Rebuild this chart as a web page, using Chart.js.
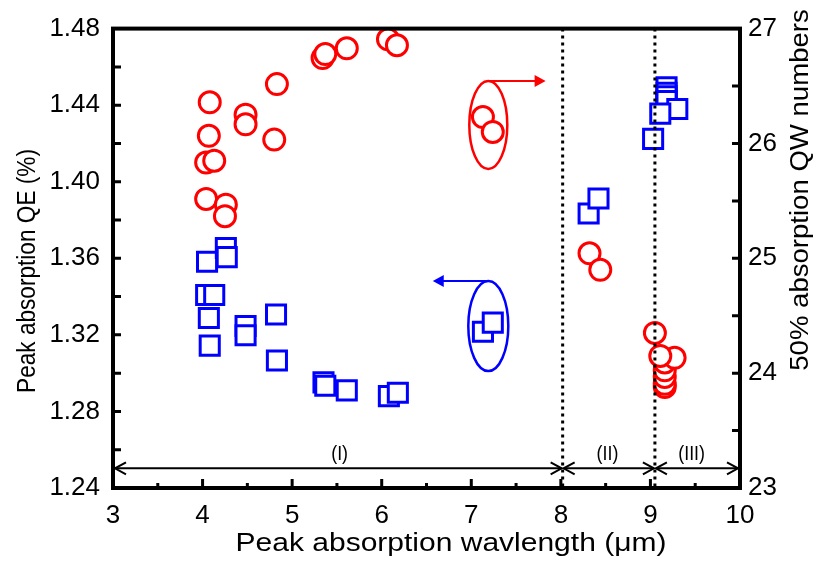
<!DOCTYPE html>
<html>
<head>
<meta charset="utf-8">
<script src="https://cdn.jsdelivr.net/npm/chart.js@4"></script>
<style>
body { margin: 0; background: #fff; }
</style>
</head>
<body>
<canvas id="chart" width="820" height="561"></canvas>
<script>
// peak absorption QE (%) vs wavelength (um) - left axis
const qeWavelength = [4.08, 4.07, 4.04, 4.13, 4.04, 4.26, 4.25, 4.48, 4.48, 4.83, 4.80, 5.34, 5.37, 5.61, 6.07, 6.17,
  7.13, 7.24, 8.32, 8.44, 9.16, 9.16, 9.16, 9.16, 9.16, 9.27, 9.11, 9.05];
const qeValues = [1.4415, 1.424, 1.410, 1.411, 1.391, 1.388, 1.382, 1.435, 1.430, 1.451, 1.422, 1.4646, 1.4667, 1.4697, 1.4744, 1.4713,
  1.4338, 1.426, 1.3626, 1.354, 1.2928, 1.2944, 1.298, 1.3015, 1.3056, 1.308, 1.309, 1.321];

// 50% absorption QW numbers vs wavelength (um) - right axis
const qwWavelength = [4.05, 4.26, 4.27, 4.04, 4.13, 4.07, 4.08, 4.48, 4.48, 4.82, 4.83, 5.35, 5.37, 5.61, 6.08, 6.18,
  7.13, 7.24, 8.31, 8.42, 9.18, 9.18, 9.18, 9.18, 9.30, 9.11, 9.03];
const qwValues = [24.97, 25.09, 25.01, 24.68, 24.68, 24.48, 24.24, 24.41, 24.33, 24.51, 24.11, 23.92, 23.89, 23.85, 23.80, 23.83,
  24.36, 24.44, 25.39, 25.52, 26.49, 26.44, 26.41, 26.37, 26.30, 26.26, 26.04];

// region borders and labels
const regionBounds = [3, 8.02, 9.05, 10];
const regionLabels = ['(I)', '(II)', '(III)'];
const regionLabelX = [5.53, 8.52, 9.46];

const FONT = '"Liberation Sans", Arial, sans-serif';

function arrowHead(ctx, x, y, dir, open) {
  // dir: 1 points right, -1 points left
  ctx.beginPath();
  ctx.moveTo(x - dir * 11, y - 6);
  ctx.lineTo(x, y);
  ctx.lineTo(x - dir * 11, y + 6);
  if (open) {
    ctx.stroke();
  } else {
    ctx.closePath();
    ctx.fill();
  }
}

// text stretched along its own direction (the original lettering is wide)
function wideText(ctx, text, x, y, angle, stretch) {
  ctx.save();
  ctx.translate(x, y);
  ctx.rotate(angle);
  ctx.scale(stretch, 1);
  ctx.fillText(text, 0, 0);
  ctx.restore();
}

const overlay = {
  id: 'overlay',
  afterDatasetsDraw(chart) {
    const { ctx, chartArea: a, scales: { x, y, y2 } } = chart;
    ctx.save();

    // dotted borders between regions
    ctx.strokeStyle = '#000';
    ctx.lineWidth = 3;
    ctx.setLineDash([3, 4]);
    for (const v of regionBounds.slice(1, 3)) {
      const px = x.getPixelForValue(v);
      ctx.beginPath();
      ctx.moveTo(px, a.top);
      ctx.lineTo(px, a.bottom);
      ctx.stroke();
    }
    ctx.setLineDash([]);

    // double arrows for regions
    const ay = y.getPixelForValue(1.2503);
    ctx.lineWidth = 2;
    for (let i = 0; i < 3; i++) {
      const x0 = x.getPixelForValue(regionBounds[i]) + (i === 0 ? 2 : 1);
      const x1 = x.getPixelForValue(regionBounds[i + 1]) - (i === 2 ? 2 : 1);
      ctx.beginPath();
      ctx.moveTo(x0, ay);
      ctx.lineTo(x1, ay);
      ctx.stroke();
      arrowHead(ctx, x0, ay, -1, true);
      arrowHead(ctx, x1, ay, 1, true);
    }
    ctx.fillStyle = '#000';
    ctx.font = '21px ' + FONT;
    ctx.textAlign = 'center';
    ctx.textBaseline = 'middle';
    regionLabels.forEach((t, i) => {
      const px = x.getPixelForValue(regionLabelX[i]);
      const py = y.getPixelForValue(1.2579);
      ctx.save();
      ctx.translate(px, py);
      ctx.scale(0.85, 1);
      ctx.fillText(t, 0, 0);
      ctx.restore();
    });

    // red ellipse -> right axis arrow (QE)
    let cx = x.getPixelForValue(7.19);
    let cy = y.getPixelForValue(1.4297);
    ctx.strokeStyle = '#ff0000';
    ctx.fillStyle = '#ff0000';
    ctx.lineWidth = 2.5;
    ctx.beginPath();
    ctx.ellipse(cx, cy, 19, 44, 0, 0, Math.PI * 2);
    ctx.stroke();
    ctx.lineWidth = 2;
    ctx.beginPath();
    ctx.moveTo(cx, cy - 44);
    ctx.lineTo(x.getPixelForValue(7.83) - 6, cy - 44);
    ctx.stroke();
    arrowHead(ctx, x.getPixelForValue(7.83), cy - 44, 1, false);

    // blue ellipse -> left axis arrow (QW)
    cx = x.getPixelForValue(7.19);
    cy = y2.getPixelForValue(24.41);
    ctx.strokeStyle = '#0000ff';
    ctx.fillStyle = '#0000ff';
    ctx.lineWidth = 2.5;
    ctx.beginPath();
    ctx.ellipse(cx, cy, 20, 45, 0, 0, Math.PI * 2);
    ctx.stroke();
    ctx.lineWidth = 2;
    ctx.beginPath();
    ctx.moveTo(cx, cy - 45);
    ctx.lineTo(x.getPixelForValue(6.57) + 6, cy - 45);
    ctx.stroke();
    arrowHead(ctx, x.getPixelForValue(6.57), cy - 45, -1, false);

    // inward tick marks
    ctx.strokeStyle = '#000';
    ctx.lineWidth = 3;
    ctx.beginPath();
    for (let v = 3; v <= 10.001; v += 0.5) {
      const px = x.getPixelForValue(v);
      const len = Math.abs(v - Math.round(v)) < 0.01 ? 9 : 5;
      ctx.moveTo(px, a.bottom);
      ctx.lineTo(px, a.bottom - len);
    }
    for (let v = 1.24; v <= 1.4801; v += 0.02) {
      const py = y.getPixelForValue(v);
      ctx.moveTo(a.left, py);
      ctx.lineTo(a.left + 8, py);
    }
    for (let v = 23; v <= 27.001; v += 0.5) {
      const py = y2.getPixelForValue(v);
      ctx.moveTo(a.right, py);
      ctx.lineTo(a.right - 8, py);
    }
    ctx.stroke();

    // frame
    ctx.lineWidth = 4;
    ctx.strokeRect(a.left, a.top, a.right - a.left, a.bottom - a.top);

    // axis titles
    ctx.fillStyle = '#000';
    ctx.textAlign = 'center';
    ctx.textBaseline = 'alphabetic';
    ctx.font = '25px ' + FONT;
    wideText(ctx, 'Peak absorption wavlength (\u03bcm)', 451, 551, 0, 1.2);
    ctx.font = '26px ' + FONT;
    wideText(ctx, 'Peak absorption QE (%)', 35, 271, -Math.PI / 2, 0.87);
    wideText(ctx, '50% absorption QW numbers', 808, 190, -Math.PI / 2, 1.06);

    ctx.restore();
  }
};

const qePoints = qeWavelength.map((w, i) => ({ x: w, y: qeValues[i] }));
const qwPoints = qwWavelength.map((w, i) => ({ x: w, y: qwValues[i] }));

new Chart(document.getElementById('chart'), {
  type: 'scatter',
  data: {
    datasets: [{
      label: 'Peak absorption QE',
      data: qePoints,
      yAxisID: 'y',
      pointStyle: 'circle',
      pointRadius: 10.5,
      pointBorderWidth: 3,
      borderColor: '#ff0000',
      backgroundColor: '#ffffff'
    }, {
      label: '50% absorption QW numbers',
      data: qwPoints,
      yAxisID: 'y2',
      pointStyle: 'rect',
      pointRadius: 13.5,
      pointBorderWidth: 3,
      borderColor: '#0000ff',
      backgroundColor: '#ffffff'
    }]
  },
  options: {
    responsive: false,
    animation: false,
    layout: { padding: { top: 20, left: 0, right: 0, bottom: 0 } },
    plugins: {
      legend: { display: false },
      tooltip: { enabled: false }
    },
    scales: {
      x: {
        type: 'linear',
        min: 3,
        max: 10,
        afterFit: (s) => { s.height = 73; },
        grid: { display: false, drawTicks: false },
        border: { display: false },
        ticks: { stepSize: 1, padding: 12, color: '#000', font: { size: 26, family: FONT } }
      },
      y: {
        position: 'left',
        min: 1.24,
        max: 1.48,
        afterFit: (s) => { s.width = 113; },
        grid: { display: false, drawTicks: false },
        border: { display: false },
        ticks: {
          stepSize: 0.04,
          padding: 13,
          color: '#000',
          font: { size: 26, family: FONT },
          callback: (v) => v.toFixed(2)
        }
      },
      y2: {
        position: 'right',
        min: 23,
        max: 27,
        afterFit: (s) => { s.width = 80; },
        grid: { display: false, drawTicks: false },
        border: { display: false },
        ticks: { stepSize: 1, padding: 8, color: '#000', font: { size: 26, family: FONT } }
      }
    }
  },
  plugins: [overlay]
});
</script>
</body>
</html>
